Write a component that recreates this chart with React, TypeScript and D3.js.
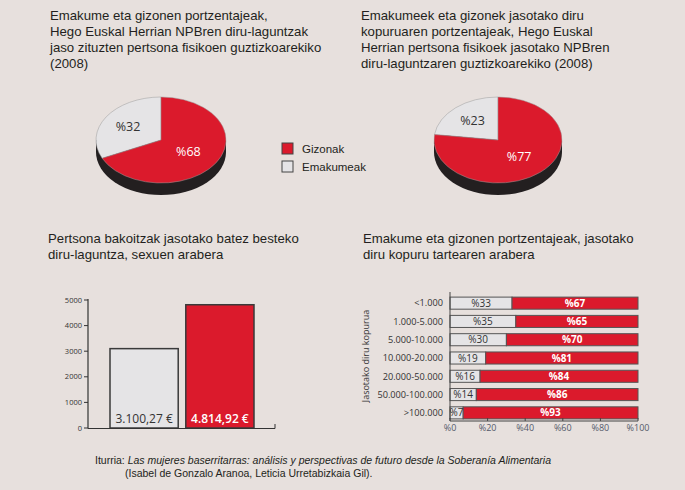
import React from "react";
import * as d3 from "d3";

const pie1Labels = ["Emakumeak", "Gizonak"];
const pie1Values = [32, 68];
const pie2Values = [23, 77];

const legendLabels = ["Gizonak", "Emakumeak"];

const barCategories = ["Emakumeak", "Gizonak"];
const barValues = [3100.27, 4814.92];
const barLabels = ["3.100,27 €", "4.814,92 €"];
const barTicks = [0, 1000, 2000, 3000, 4000, 5000];

const rangeCategories = ["<1.000", "1.000-5.000", "5.000-10.000", "10.000-20.000", "20.000-50.000", "50.000-100.000", ">100.000"];
const womenPct = [33, 35, 30, 19, 16, 14, 7];
const menPct = [67, 65, 70, 81, 84, 86, 93];
const pctTicks = [0, 20, 40, 60, 80, 100];

const title1 = ["Emakume eta gizonen portzentajeak,", "Hego Euskal Herrian NPBren diru-laguntzak", "jaso zituzten pertsona fisikoen guztizkoarekiko", "(2008)"];
const title2 = ["Emakumeek eta gizonek jasotako diru", "kopuruaren portzentajeak, Hego Euskal", "Herrian pertsona fisikoek jasotako NPBren", "diru-laguntzaren guztizkoarekiko (2008)"];
const title3 = ["Pertsona bakoitzak jasotako batez besteko", "diru-laguntza, sexuen arabera"];
const title4 = ["Emakume eta gizonen portzentajeak, jasotako", "diru kopuru tartearen arabera"];

const BG = "#e7e0dd";
const RED = "#db1a2c";
const GREY = "#e5e4e6";
const DARK = "#231f20";
const TXT = "#231f20";
const TITLE_FONT = "'Liberation Sans', Arial, sans-serif";
const NUM_FONT = "'Open Sans', sans-serif";

function Title({ x, y, lines }: { x: number; y: number; lines: string[] }) {
  return (
    <text x={x} y={y} fontFamily={TITLE_FONT} fontSize={13.2} fill={TXT}>
      {lines.map((l, i) => (
        <tspan key={i} x={x} dy={i === 0 ? 0 : 16}>{l}</tspan>
      ))}
    </text>
  );
}

function Pie3D({ cx, cy, rx, ry, depth, values }: { cx: number; cy: number; rx: number; ry: number; depth: number; values: number[] }) {
  const total = d3.sum(values);
  const g = (values[0] / total) * 2 * Math.PI;
  const pie = d3.pie<number>().sort(null).startAngle(-g).endAngle(2 * Math.PI - g);
  const arcs = pie(values);
  const arc = d3.arc<d3.PieArcDatum<number>>().innerRadius(0).outerRadius(rx);
  const sy = ry / rx;
  const fills = [GREY, RED];
  const labelR = [0.6, 0.5];
  return (
    <g>
      <ellipse cx={cx} cy={cy + depth} rx={rx} ry={ry} fill={DARK} />
      <rect x={cx - rx} y={cy} width={2 * rx} height={depth} fill={DARK} />
      <g transform={`translate(${cx},${cy}) scale(1,${sy})`}>
        {arcs.map((a, i) => (
          <path key={i} d={arc(a) || ""} fill={fills[i]} stroke="#9a9a9a" strokeWidth={0.5} vectorEffect="non-scaling-stroke" />
        ))}
      </g>
      {arcs.map((a, i) => {
        const mid = (a.startAngle + a.endAngle) / 2;
        const x = cx + rx * labelR[i] * Math.sin(mid);
        const y = cy - ry * labelR[i] * Math.cos(mid);
        return (
          <text key={i} x={x} y={y} dy="0.35em" textAnchor="middle" fontFamily={NUM_FONT} fontSize={12.5}
            fill={i === 0 ? "#333" : "#fff"} fontWeight={i === 0 ? 400 : 500}>
            {"%" + values[i]}
          </text>
        );
      })}
    </g>
  );
}

export default function App() {
  // bar chart
  const by = d3.scaleLinear().domain([0, 5000]).range([428, 300]);
  const bx = d3.scaleBand().domain(barCategories).range([110, 254]).paddingInner(0.1).paddingOuter(0);
  const barFills = [GREY, RED];

  // stacked chart
  const sx = d3.scaleLinear().domain([0, 100]).range([450, 638]);
  const sy = d3.scaleBand().domain(rangeCategories).range([294, 422]).paddingInner(0.34).paddingOuter(0.17);

  return (
    <svg width={685} height={490} style={{ position: "absolute", left: 0, top: 0, display: "block" }}>
      <rect x={0} y={0} width={685} height={490} fill={BG} />

      <Title x={50} y={20} lines={title1} />
      <Title x={361} y={20} lines={title2} />
      <Title x={48} y={243} lines={title3} />
      <Title x={363} y={243} lines={title4} />

      <Pie3D cx={161} cy={140} rx={65} ry={43} depth={12} values={pie1Values} />
      <Pie3D cx={498} cy={140} rx={64} ry={43} depth={12} values={pie2Values} />

      {/* legend */}
      {legendLabels.map((l, i) => (
        <g key={l} transform={`translate(282,${143 + i * 18})`}>
          <rect x={0} y={0} width={11} height={11} fill={i === 0 ? RED : GREY} stroke="#444" strokeWidth={1} />
          <text x={20} y={9.5} fontFamily={TITLE_FONT} fontSize={11.5} fill={TXT}>{l}</text>
        </g>
      ))}

      {/* bar chart */}
      <g>
        {barTicks.map((t) => (
          <g key={t}>
            <line x1={84} x2={88} y1={by(t)} y2={by(t)} stroke="#333" strokeWidth={1} />
            <text x={82} y={by(t)} dy="0.35em" textAnchor="end" fontFamily={NUM_FONT} fontSize={7.5} fill="#333">{t}</text>
          </g>
        ))}
        {barCategories.map((c, i) => (
          <g key={c}>
            <rect x={bx(c)!} y={by(barValues[i])} width={bx.bandwidth()} height={by(0) - by(barValues[i])}
              fill={barFills[i]} stroke="#3a3a3a" strokeWidth={1.5} />
            <text x={bx(c)! + bx.bandwidth() / 2} y={423} textAnchor="middle" fontFamily={NUM_FONT} fontSize={12}
              fontWeight={i === 0 ? 400 : 600} fill={i === 0 ? "#333" : "#fff"}>{barLabels[i]}</text>
          </g>
        ))}
        <line x1={88} x2={88} y1={299} y2={428.5} stroke="#333" strokeWidth={1.2} />
        <line x1={88} x2={275} y1={428.5} y2={428.5} stroke="#333" strokeWidth={1.2} />
        <line x1={275} x2={275} y1={424} y2={428.5} stroke="#333" strokeWidth={1} />
      </g>

      {/* stacked chart */}
      <g>
        {rangeCategories.map((c, i) => {
          const y = sy(c)!;
          const h = sy.bandwidth();
          return (
            <g key={c}>
              <rect x={sx(0)} y={y} width={sx(womenPct[i]) - sx(0)} height={h} fill={GREY} stroke="#555" strokeWidth={1} />
              <rect x={sx(womenPct[i])} y={y} width={sx(100) - sx(womenPct[i])} height={h} fill={RED} stroke="#555" strokeWidth={1} />
              <text x={sx(womenPct[i] / 2)} y={y + h / 2} dy="0.36em" textAnchor="middle" fontFamily={NUM_FONT} fontSize={10} fill="#333">{"%" + womenPct[i]}</text>
              <text x={sx(womenPct[i] + menPct[i] / 2)} y={y + h / 2} dy="0.36em" textAnchor="middle" fontFamily={NUM_FONT} fontSize={10} fontWeight={700} fill="#fff">{"%" + menPct[i]}</text>
              <text x={443} y={y + h / 2} dy="0.36em" textAnchor="end" fontFamily={NUM_FONT} fontSize={9.2} fill="#333">{c}</text>
            </g>
          );
        })}
        <line x1={450} x2={450} y1={292} y2={421} stroke="#444" strokeWidth={1} />
        <line x1={450} x2={638} y1={421} y2={421} stroke="#444" strokeWidth={1} />
        {pctTicks.map((t) => (
          <g key={t}>
            <line x1={sx(t)} x2={sx(t)} y1={418} y2={421} stroke="#444" strokeWidth={1} />
            <text x={sx(t)} y={431} textAnchor="middle" fontFamily={NUM_FONT} fontSize={9} fill="#555b6b">{"%" + t}</text>
          </g>
        ))}
        <text transform="translate(369,356) rotate(-90)" textAnchor="middle" fontFamily={NUM_FONT} fontSize={9} fill="#333">Jasotako diru kopurua</text>
      </g>

      {/* source */}
      <text x={95} y={464} fontFamily={TITLE_FONT} fontSize={10.5} fill={TXT}>
        <tspan>Iturria: </tspan>
        <tspan fontStyle="italic">Las mujeres baserritarras: análisis y perspectivas de futuro desde la Soberanía Alimentaria</tspan>
      </text>
      <text x={125} y={477} fontFamily={TITLE_FONT} fontSize={10.5} fill={TXT}>(Isabel de Gonzalo Aranoa, Leticia Urretabizkaia Gil).</text>
    </svg>
  );
}
